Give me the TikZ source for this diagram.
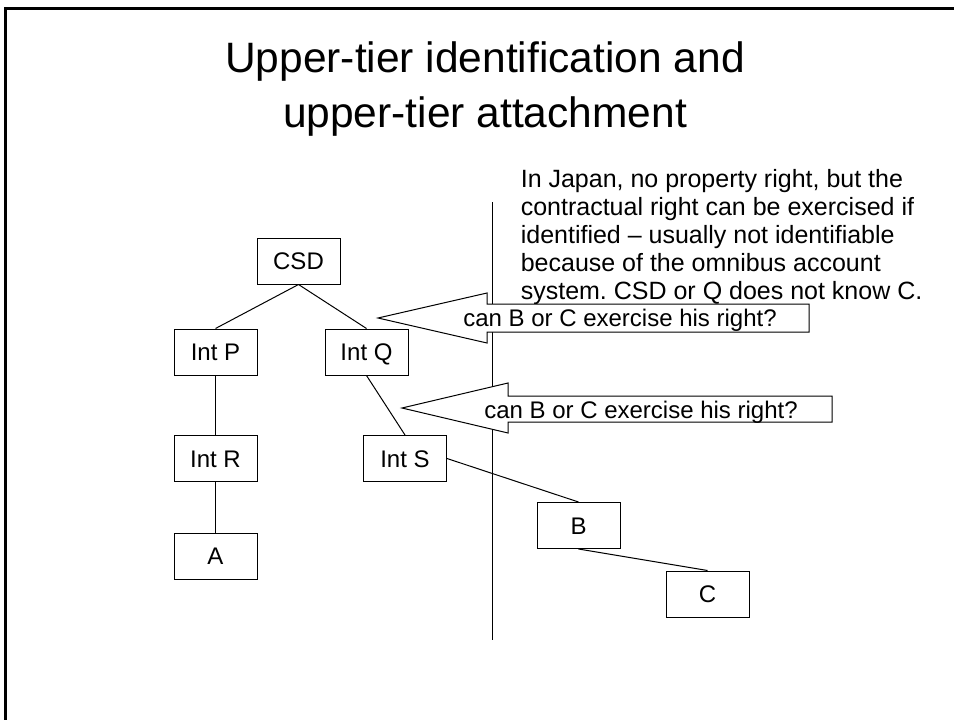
\documentclass[tikz,border=0pt]{standalone}
\usepackage{fontspec}
\setmainfont{Liberation Sans}
\frenchspacing
\begin{document}
\begin{tikzpicture}[x=1pt,y=-1pt,
  box/.style={draw, line width=1pt, minimum width=83pt, minimum height=46pt,
    inner sep=0pt, text height=17.2pt, text depth=0pt,
    font=\fontsize{24}{28}\selectfont},
  link/.style={line width=1pt},
  callout/.style={draw, fill=white, line width=1pt},
  calltext/.style={anchor=base, inner sep=0pt, font=\fontsize{24}{28}\selectfont},
]
\useasboundingbox (0,0) rectangle (954,720);

% slide frame
\draw[line width=2.7pt] (5.3,720) -- (5.3,8.7) -- (954,8.7);

% title
\node[anchor=north, align=center, inner sep=0pt,
      font=\fontsize{42.5}{55}\selectfont] (title) at (485,42)
  {Upper-tier identification and\\upper-tier attachment};

% note on the Japanese system
\node[anchor=north west, align=left, inner sep=0pt,
      font=\fontsize{25}{28}\selectfont] (note) at (520.6,169)
  {In Japan, no property right, but the\\
   contractual right can be exercised if\\
   identified -- usually not identifiable\\
   because of the omnibus account\\
   system. CSD or Q does not know C.};

% separator
\coordinate (sepTop) at (492,202);
\coordinate (sepBot) at (492,640);
\draw[link] (sepTop) -- (sepBot);

% holding chain
\node[box] (csd) at (298.5,261) {CSD};
\node[box] (p)   at (215.5,352) {Int P};
\node[box] (q)   at (366.5,352) {Int Q};
\node[box] (r)   at (215.5,458.5) {Int R};
\node[box] (a)   at (215.5,556) {A};
\node[box] (s)   at (405,458.5) {Int S};
\node[box] (b)   at (578.5,525.5) {B};
\node[box] (c)   at (707.5,594) {C};

\draw[link] (csd.south) -- (p.north);
\draw[link] (csd.south) -- (q.north);
\draw[link] (p.south) -- (r.north);
\draw[link] (r.south) -- (a.north);
\draw[link] (q.south) -- (s.north);
\draw[link] (s.east) -- (b.north);
\draw[link] (b.south) -- (c.north);

% question callouts
\draw[callout] (378,318) -- (487,293) -- (487,304) -- (809,304) -- (809,332)
  -- (487,332) -- (487,343) -- cycle;
\node[calltext] (ask1) at (620,326) {can B or C exercise his right?};

\draw[callout] (402,408) -- (508,383) -- (508,396) -- (832,396) -- (832,422)
  -- (508,422) -- (508,433) -- cycle;
\node[calltext] (ask2) at (641,418) {can B or C exercise his right?};
\end{tikzpicture}
\end{document}
